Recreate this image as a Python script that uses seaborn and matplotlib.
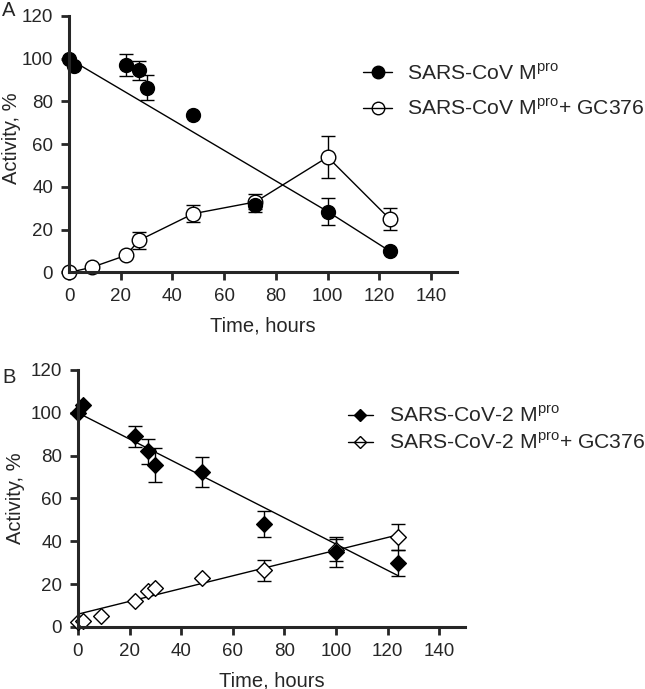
"""
Inactivation time course of SARS-CoV and SARS-CoV-2 Mpro, with and without GC376.
"""

import matplotlib.pyplot as plt
import seaborn as sns
from matplotlib.lines import Line2D

# Panel A - SARS-CoV Mpro
a_time = [0, 2, 22, 27, 30, 48, 72, 100, 124]
a_act = [100, 96.5, 97, 94.5, 86.5, 73.5, 31.5, 28.5, 10]
a_err = [0, 0, 5, 4.5, 6, 0, 3, 6.5, 0]
a_fit_time = [0, 100, 124]
a_fit_act = [100, 28.5, 10]

# Panel A - SARS-CoV Mpro + GC376
a_gc_time = [0, 9, 22, 27, 48, 72, 100, 124]
a_gc_act = [0, 2.5, 8, 15, 27.5, 33, 54, 25]
a_gc_err = [0, 0, 0, 4, 4, 3.5, 10, 5]

# Panel B - SARS-CoV-2 Mpro
b_time = [0, 2, 22, 27, 30, 48, 72, 100, 124]
b_act = [100, 103.5, 89, 82, 75.5, 72.5, 48, 35, 30]
b_err = [0, 0, 5, 6, 8, 7, 6, 7, 6]
b_fit_time = [0, 124]
b_fit_act = [100, 24]

# Panel B - SARS-CoV-2 Mpro + GC376
b_gc_time = [0, 2, 9, 22, 27, 30, 48, 72, 100, 124]
b_gc_act = [2.5, 3, 5, 12, 17, 18, 23, 26.5, 36, 42]
b_gc_err = [0, 0, 0, 0, 0, 0, 0, 5, 5, 6]
b_gc_fit_time = [0, 124]
b_gc_fit_act = [6, 43]

x_ticks = [0, 20, 40, 60, 80, 100, 120, 140]
y_ticks = [0, 20, 40, 60, 80, 100, 120]


def draw_errors(ax, x, y, err):
    """Error bars only where there is an error."""
    keep = [i for i, e in enumerate(err) if e > 0]
    ax.errorbar([x[i] for i in keep], [y[i] for i in keep],
                yerr=[err[i] for i in keep], fmt='none', ecolor='black',
                elinewidth=1, capsize=5, capthick=1, zorder=1.5, clip_on=False)


def draw_points(ax, x, y, marker, size, filled):
    sns.scatterplot(x=x, y=y, ax=ax, marker=marker, s=size ** 2,
                    color='black' if filled else 'white',
                    edgecolor='black', linewidth=1, zorder=2.2,
                    clip_on=False, legend=False)


def style_axes(ax):
    ax.set_xlim(0, 150)
    ax.set_ylim(0, 120)
    ax.set_xticks(x_ticks)
    ax.set_yticks(y_ticks)
    ax.tick_params(direction='out', length=6, width=2, labelsize=13.5, pad=5.5)
    for side in ['left', 'bottom']:
        ax.spines[side].set_linewidth(2.2)
    sns.despine(ax=ax)
    ax.set_xlabel('Time, hours', fontsize=14.5, labelpad=8)
    ax.set_ylabel('Activity, %', fontsize=14.5)
    ax.grid(False)


sns.set_style('ticks')
plt.rcParams['font.family'] = ['Liberation Sans', 'DejaVu Sans']
plt.rcParams['mathtext.fontset'] = 'custom'
plt.rcParams['mathtext.rm'] = 'Liberation Sans'

fig = plt.figure(figsize=(6.45, 6.89), dpi=100)
ax_a = fig.add_axes([0.107, 0.6045, 0.6016, 0.3723])
ax_b = fig.add_axes([0.1209, 0.09, 0.600, 0.373])

# Panel A
sns.lineplot(x=a_gc_time, y=a_gc_act, ax=ax_a, color='black', lw=1, zorder=1.5)
sns.lineplot(x=a_fit_time, y=a_fit_act, ax=ax_a, color='black', lw=1, zorder=1.5)
draw_errors(ax_a, a_gc_time, a_gc_act, a_gc_err)
draw_errors(ax_a, a_time, a_act, a_err)
draw_points(ax_a, a_gc_time, a_gc_act, 'o', 10.5, False)
draw_points(ax_a, a_time, a_act, 'o', 10, True)
style_axes(ax_a)
ax_a.yaxis.set_label_coords(-0.124, 0.524)

handles_a = [
    Line2D([], [], color='black', lw=1, marker='o', ms=9, mfc='black', mec='black'),
    Line2D([], [], color='black', lw=1, marker='o', ms=9, mfc='none', mec='black'),
]
labels_a = [r'SARS-CoV M$^{\mathrm{pro}}$', r'SARS-CoV M$^{\mathrm{pro}}$+ GC376']
ax_a.legend(handles_a, labels_a, loc='upper left', bbox_to_anchor=(0.563, 0.9085),
            bbox_transform=fig.transFigure, frameon=False, fontsize=15.2,
            handlelength=1.37, handletextpad=0.71, labelspacing=0.69, borderpad=0,
            borderaxespad=0)

# Panel B
sns.lineplot(x=b_fit_time, y=b_fit_act, ax=ax_b, color='black', lw=1, zorder=1.5)
sns.lineplot(x=b_gc_fit_time, y=b_gc_fit_act, ax=ax_b, color='black', lw=1, zorder=1.5)
draw_errors(ax_b, b_gc_time, b_gc_act, b_gc_err)
draw_errors(ax_b, b_time, b_act, b_err)
draw_points(ax_b, b_gc_time, b_gc_act, 'D', 8, False)
draw_points(ax_b, b_time, b_act, 'D', 8, True)
style_axes(ax_b)
ax_b.yaxis.set_label_coords(-0.137, 0.5)

handles_b = [
    Line2D([], [], color='black', lw=1, marker='D', ms=6.5, mfc='black', mec='black'),
    Line2D([], [], color='black', lw=1, marker='D', ms=6.5, mfc='none', mec='black'),
]
labels_b = [r'SARS-CoV-2 M$^{\mathrm{pro}}$', r'SARS-CoV-2 M$^{\mathrm{pro}}$+ GC376']
ax_b.legend(handles_b, labels_b, loc='upper left', bbox_to_anchor=(0.5395, 0.412),
            bbox_transform=fig.transFigure, frameon=False, fontsize=15.2,
            handlelength=1.18, handletextpad=0.76, labelspacing=0.3, borderpad=0,
            borderaxespad=0)

fig.text(2 / 645, 1 - 11 / 689, 'A', fontsize=14.5, ha='left', va='center')
fig.text(2 / 645, 1 - 378 / 689, 'B', fontsize=14.5, ha='left', va='center')

fig.savefig('out.png', dpi=100)
plt.close(fig)
